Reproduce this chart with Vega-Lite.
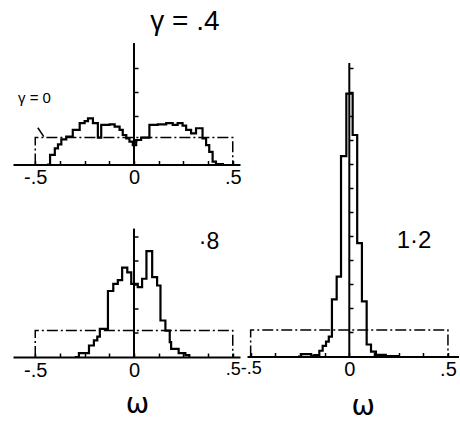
{
  "$schema": "https://vega.github.io/schema/vega-lite/v6.json",
  "padding": {"left": 13, "top": 0, "right": 0, "bottom": 0},
  "autosize": {"type": "pad"},
  "background": "white",
  "bounds": "full",
  "spacing": -2,
  "config": {
    "view": {"stroke": null},
    "axis": {"domainColor": "black", "domainWidth": 2, "tickColor": "black", "tickWidth": 1.5, "labelColor": "black", "labelFont": "Liberation Sans", "labelFontSize": 20, "grid": false},
    "text": {"font": "Liberation Sans", "color": "black"}
  },
  "datasets": {
    "box1": [{"i": 0, "w": -0.5, "h": 0}, {"i": 1, "w": -0.5, "h": 1.12}, {"i": 2, "w": 0.5, "h": 1.12}, {"i": 3, "w": 0.5, "h": 0}],
    "box": [{"i": 0, "w": -0.5, "h": 0}, {"i": 1, "w": -0.5, "h": 1.1}, {"i": 2, "w": 0.5, "h": 1.1}, {"i": 3, "w": 0.5, "h": 0}],
    "g04": [
      {"w": -0.44, "h": 0}, {"w": -0.425, "h": 0.4}, {"w": -0.401, "h": 0.67}, {"w": -0.385, "h": 0.84}, {"w": -0.368, "h": 1.05},
      {"w": -0.343, "h": 1.16}, {"w": -0.31, "h": 1.44}, {"w": -0.275, "h": 1.72}, {"w": -0.25, "h": 1.81}, {"w": -0.233, "h": 1.92},
      {"w": -0.208, "h": 1.72}, {"w": -0.183, "h": 1.12}, {"w": -0.166, "h": 1.65}, {"w": -0.124, "h": 1.67}, {"w": -0.098, "h": 1.58},
      {"w": -0.073, "h": 1.44}, {"w": -0.057, "h": 1.23}, {"w": -0.039, "h": 1.09}, {"w": -0.023, "h": 0.95}, {"w": -0.006, "h": 0.81},
      {"w": 0.011, "h": 1.02}, {"w": 0.036, "h": 1.12}, {"w": 0.078, "h": 1.65}, {"w": 0.12, "h": 1.67}, {"w": 0.163, "h": 1.72},
      {"w": 0.196, "h": 1.65}, {"w": 0.221, "h": 1.72}, {"w": 0.246, "h": 1.62}, {"w": 0.264, "h": 1.44}, {"w": 0.289, "h": 1.3},
      {"w": 0.314, "h": 1.51}, {"w": 0.347, "h": 1.09}, {"w": 0.365, "h": 0.81}, {"w": 0.381, "h": 0.53}, {"w": 0.398, "h": 0.12},
      {"w": 0.415, "h": 0.02}, {"w": 0.45, "h": 0}
    ],
    "g08": [
      {"w": -0.3, "h": 0}, {"w": -0.279, "h": 0.16}, {"w": -0.228, "h": 0.48}, {"w": -0.203, "h": 0.69}, {"w": -0.186, "h": 0.85},
      {"w": -0.173, "h": 1.17}, {"w": -0.132, "h": 2.75}, {"w": -0.105, "h": 3.05}, {"w": -0.082, "h": 3.2}, {"w": -0.06, "h": 3.72},
      {"w": -0.034, "h": 3.53}, {"w": -0.014, "h": 3.05}, {"w": 0.019, "h": 2.91}, {"w": 0.041, "h": 3.26}, {"w": 0.063, "h": 4.41},
      {"w": 0.092, "h": 3.33}, {"w": 0.117, "h": 2.98}, {"w": 0.134, "h": 1.52}, {"w": 0.159, "h": 1.1}, {"w": 0.181, "h": 0.62},
      {"w": 0.188, "h": 0.34}, {"w": 0.226, "h": 0.16}, {"w": 0.26, "h": 0.08}, {"w": 0.28, "h": 0}
    ],
    "g12": [
      {"w": -0.26, "h": 0}, {"w": -0.244, "h": 0.1}, {"w": -0.193, "h": 0.03}, {"w": -0.177, "h": 0.06}, {"w": -0.152, "h": 0.24},
      {"w": -0.135, "h": 0.44}, {"w": -0.118, "h": 0.62}, {"w": -0.104, "h": 0.83}, {"w": -0.088, "h": 2.38}, {"w": -0.064, "h": 3.33},
      {"w": -0.042, "h": 8.35}, {"w": -0.015, "h": 10.95}, {"w": 0.017, "h": 9.23}, {"w": 0.04, "h": 4.72}, {"w": 0.064, "h": 2.3},
      {"w": 0.088, "h": 0.5}, {"w": 0.11, "h": 0.2}, {"w": 0.135, "h": 0.07}, {"w": 0.185, "h": 0.02}, {"w": 0.25, "h": 0}
    ],
    "yl1": [{"w": 0, "h": 0, "h2": 5.06}],
    "yl2": [{"w": 0, "h": 0, "h2": 5.35}],
    "yl3": [{"w": 0, "h": 0, "h2": 12.23}],
    "t1": [{"w": 0.258, "h": 5.94, "label": "γ = .4"}],
    "t1b": [{"w": -0.504, "h": 2.75, "label": "γ = 0"}],
    "lead": [{"w": -0.487, "h": 1.53, "w2": -0.457, "h2": 1.16}],
    "t2": [{"w": 0.38, "h": 4.79, "label": "·8"}],
    "t3": [{"w": 0.328, "h": 4.81, "label": "1·2"}],
    "om2": [{"w": 0.018, "h": -2.02, "label": "ω"}],
    "om3": [{"w": 0.07, "h": -2.12, "label": "ω"}]
  },
  "hconcat": [
    {
      "vconcat": [
        {
          "width": 227,
          "height": 164.5,
          "encoding": {
            "x": {"field": "w", "type": "quantitative", "scale": {"domain": [-0.6127, 0.5367], "nice": false, "zero": false},
              "axis": {"values": [-0.5, -0.375, -0.25, -0.125, 0, 0.125, 0.25, 0.375, 0.5], "labelExpr": "datum.value == 0 ? '0' : datum.value == -0.5 ? '-.5' : datum.value == 0.5 ? '.5' : ''", "tickSize": -4, "labelPadding": 7, "labelFlush": false, "labelOverlap": false, "title": null}},
            "y": {"field": "h", "type": "quantitative", "scale": {"domain": [0, 6.854], "nice": false},
              "axis": {"orient": "right", "offset": -106, "values": [1, 2, 3, 4], "labels": false, "domain": false, "tickSize": 4, "title": null}}
          },
          "layer": [
            {"data": {"name": "box1"}, "mark": {"type": "line", "strokeDash": [11, 3, 2, 3], "strokeWidth": 1.5, "color": "black"}, "encoding": {"order": {"field": "i", "type": "quantitative"}}},
            {"data": {"name": "g04"}, "mark": {"type": "line", "interpolate": "step-after", "strokeWidth": 2.2, "color": "black"}, "encoding": {}},
            {"data": {"name": "yl1"}, "mark": {"type": "rule", "strokeWidth": 2, "color": "black"}, "encoding": {"y2": {"field": "h2"}}},
            {"data": {"name": "lead"}, "mark": {"type": "rule", "strokeWidth": 1.5, "color": "black"}, "encoding": {"x2": {"field": "w2"}, "y2": {"field": "h2"}}},
            {"data": {"name": "t1"}, "mark": {"type": "text", "fontSize": 28, "baseline": "middle", "align": "center"}, "encoding": {"text": {"field": "label"}}},
            {"data": {"name": "t1b"}, "mark": {"type": "text", "fontSize": 15, "baseline": "middle", "align": "center"}, "encoding": {"text": {"field": "label"}}}
          ]
        },
        {
          "width": 227,
          "height": 161.5,
          "encoding": {
            "x": {"field": "w", "type": "quantitative", "scale": {"domain": [-0.6127, 0.5367], "nice": false, "zero": false},
              "axis": {"values": [-0.5, -0.375, -0.25, -0.125, 0, 0.125, 0.25, 0.375, 0.5], "labelExpr": "datum.value == 0 ? '0' : datum.value == -0.5 ? '-.5' : datum.value == 0.5 ? '.5' : ''", "tickSize": -4, "labelPadding": 7, "labelFlush": false, "labelOverlap": false, "title": null,
                "labelFontSize": {"condition": {"test": "datum.value == 0.5", "value": 18}, "value": 20}}},
            "y": {"field": "h", "type": "quantitative", "scale": {"domain": [0, 6.729], "nice": false},
              "axis": {"orient": "right", "offset": -106, "values": [1, 2, 3, 4, 5], "labels": false, "domain": false, "tickSize": 4, "title": null}}
          },
          "layer": [
            {"data": {"name": "box"}, "mark": {"type": "line", "strokeDash": [11, 3, 2, 3], "strokeWidth": 1.5, "color": "black"}, "encoding": {"order": {"field": "i", "type": "quantitative"}}},
            {"data": {"name": "g08"}, "mark": {"type": "line", "interpolate": "step-after", "strokeWidth": 2.2, "color": "black"}, "encoding": {}},
            {"data": {"name": "yl2"}, "mark": {"type": "rule", "strokeWidth": 2, "color": "black"}, "encoding": {"y2": {"field": "h2"}}},
            {"data": {"name": "t2"}, "mark": {"type": "text", "fontSize": 23, "baseline": "middle", "align": "center"}, "encoding": {"text": {"field": "label"}}},
            {"data": {"name": "om2"}, "mark": {"type": "text", "fontSize": 28, "font": "DejaVu Sans", "baseline": "middle", "align": "center"}, "encoding": {"text": {"field": "label"}}}
          ]
        }
      ],
      "spacing": 30.5,
      "bounds": "flush"
    },
    {
      "width": 212,
      "height": 356.5,
      "encoding": {
        "x": {"field": "w", "type": "quantitative", "scale": {"domain": [-0.5185, 0.556], "nice": false, "zero": false},
          "axis": {"values": [-0.5, -0.375, -0.25, -0.125, 0, 0.125, 0.25, 0.375, 0.5], "labelExpr": "datum.value == 0 ? '0' : datum.value == -0.5 ? '-.5' : datum.value == 0.5 ? '.5' : ''", "tickSize": -4, "labelPadding": 7, "labelFlush": false, "labelOverlap": false, "title": null,
            "labelFontSize": {"condition": {"test": "datum.value == -0.5", "value": 18}, "value": 20}}},
        "y": {"field": "h", "type": "quantitative", "scale": {"domain": [0, 14.854], "nice": false},
          "axis": {"orient": "right", "offset": -110, "values": [1, 2, 3, 4, 5, 6, 7, 8, 9, 10, 11, 12], "labels": false, "domain": false, "tickSize": 4, "title": null}}
      },
      "layer": [
        {"data": {"name": "box"}, "mark": {"type": "line", "strokeDash": [11, 3, 2, 3], "strokeWidth": 1.5, "color": "black"}, "encoding": {"order": {"field": "i", "type": "quantitative"}}},
        {"data": {"name": "g12"}, "mark": {"type": "line", "interpolate": "step-after", "strokeWidth": 2.2, "color": "black"}, "encoding": {}},
        {"data": {"name": "yl3"}, "mark": {"type": "rule", "strokeWidth": 2, "color": "black"}, "encoding": {"y2": {"field": "h2"}}},
        {"data": {"name": "t3"}, "mark": {"type": "text", "fontSize": 24, "baseline": "middle", "align": "center"}, "encoding": {"text": {"field": "label"}}},
        {"data": {"name": "om3"}, "mark": {"type": "text", "fontSize": 28, "font": "DejaVu Sans", "baseline": "middle", "align": "center"}, "encoding": {"text": {"field": "label"}}}
      ]
    }
  ]
}
